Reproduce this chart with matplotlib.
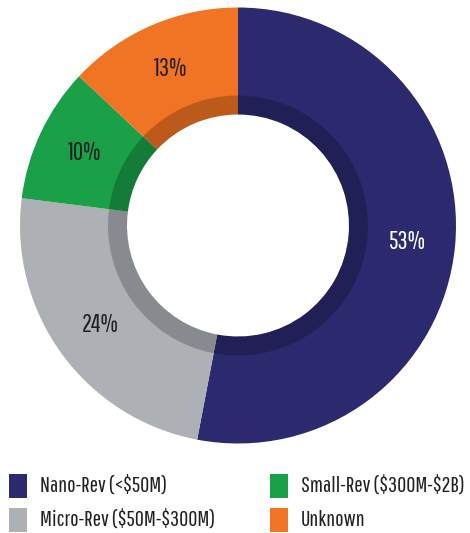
# Donut chart of company revenue bands with an inner shadow ring and a two-column key

import matplotlib.pyplot as plt
from matplotlib.patches import Rectangle

categories = ['Nano-Rev (<$50M)', 'Micro-Rev ($50M-$300M)', 'Small-Rev ($300M-$2B)', 'Unknown']
shares = [53, 24, 10, 13]
colors = ['#2B2A6F', '#ADB1B6', '#19A049', '#F07423']
label_colors = ['white', '#231F20', '#231F20', '#231F20']

plt.rcParams['font.family'] = ['Pathway Gothic One', 'Barlow Condensed', 'Roboto Condensed', 'DejaVu Sans']
plt.rcParams['font.weight'] = 'light'

W, H = 470, 533
fig = plt.figure(figsize=(W / 100, H / 100), dpi=100, facecolor='white')

# Donut placed by pixel geometry
cx, cy, R = 238, 225.5, 218
ax = fig.add_axes([(cx - R) / W, (H - cy - R) / H, 2 * R / W, 2 * R / H])

wedges, texts, autotexts = ax.pie(
    shares, colors=colors, startangle=90, counterclock=False, radius=1,
    wedgeprops=dict(width=(R - 111) / R, linewidth=0),
    autopct=lambda p: f'{round(p)}%', pctdistance=0.78,
    textprops=dict(fontsize=18))
for t, c in zip(autotexts, label_colors):
    t.set_color(c)

# Darker inner band along the hole
ax.pie(shares, colors=['black'] * len(shares), startangle=90, counterclock=False,
       radius=130 / R, wedgeprops=dict(width=19 / R, linewidth=0, alpha=0.22))

ax.set_xlim(-1, 1)
ax.set_ylim(-1, 1)
ax.set_aspect('equal')
ax.axis('off')

# Key, two columns
cols_x = [9, 270]
rows_y = [474, 508]
for i, (name, col) in enumerate(zip(categories, colors)):
    x = cols_x[i // 2]
    y = rows_y[i % 2]
    fig.patches.append(Rectangle((x / W, 1 - (y + 24) / H), 18 / W, 24 / H,
                                 transform=fig.transFigure, facecolor=col,
                                 edgecolor='none'))
    fig.text((x + 31) / W, 1 - (y + 12) / H, name, fontsize=16,
             color='#231F20', va='center', ha='left', parse_math=False)

fig.savefig('out.png', dpi=100, facecolor='white')
